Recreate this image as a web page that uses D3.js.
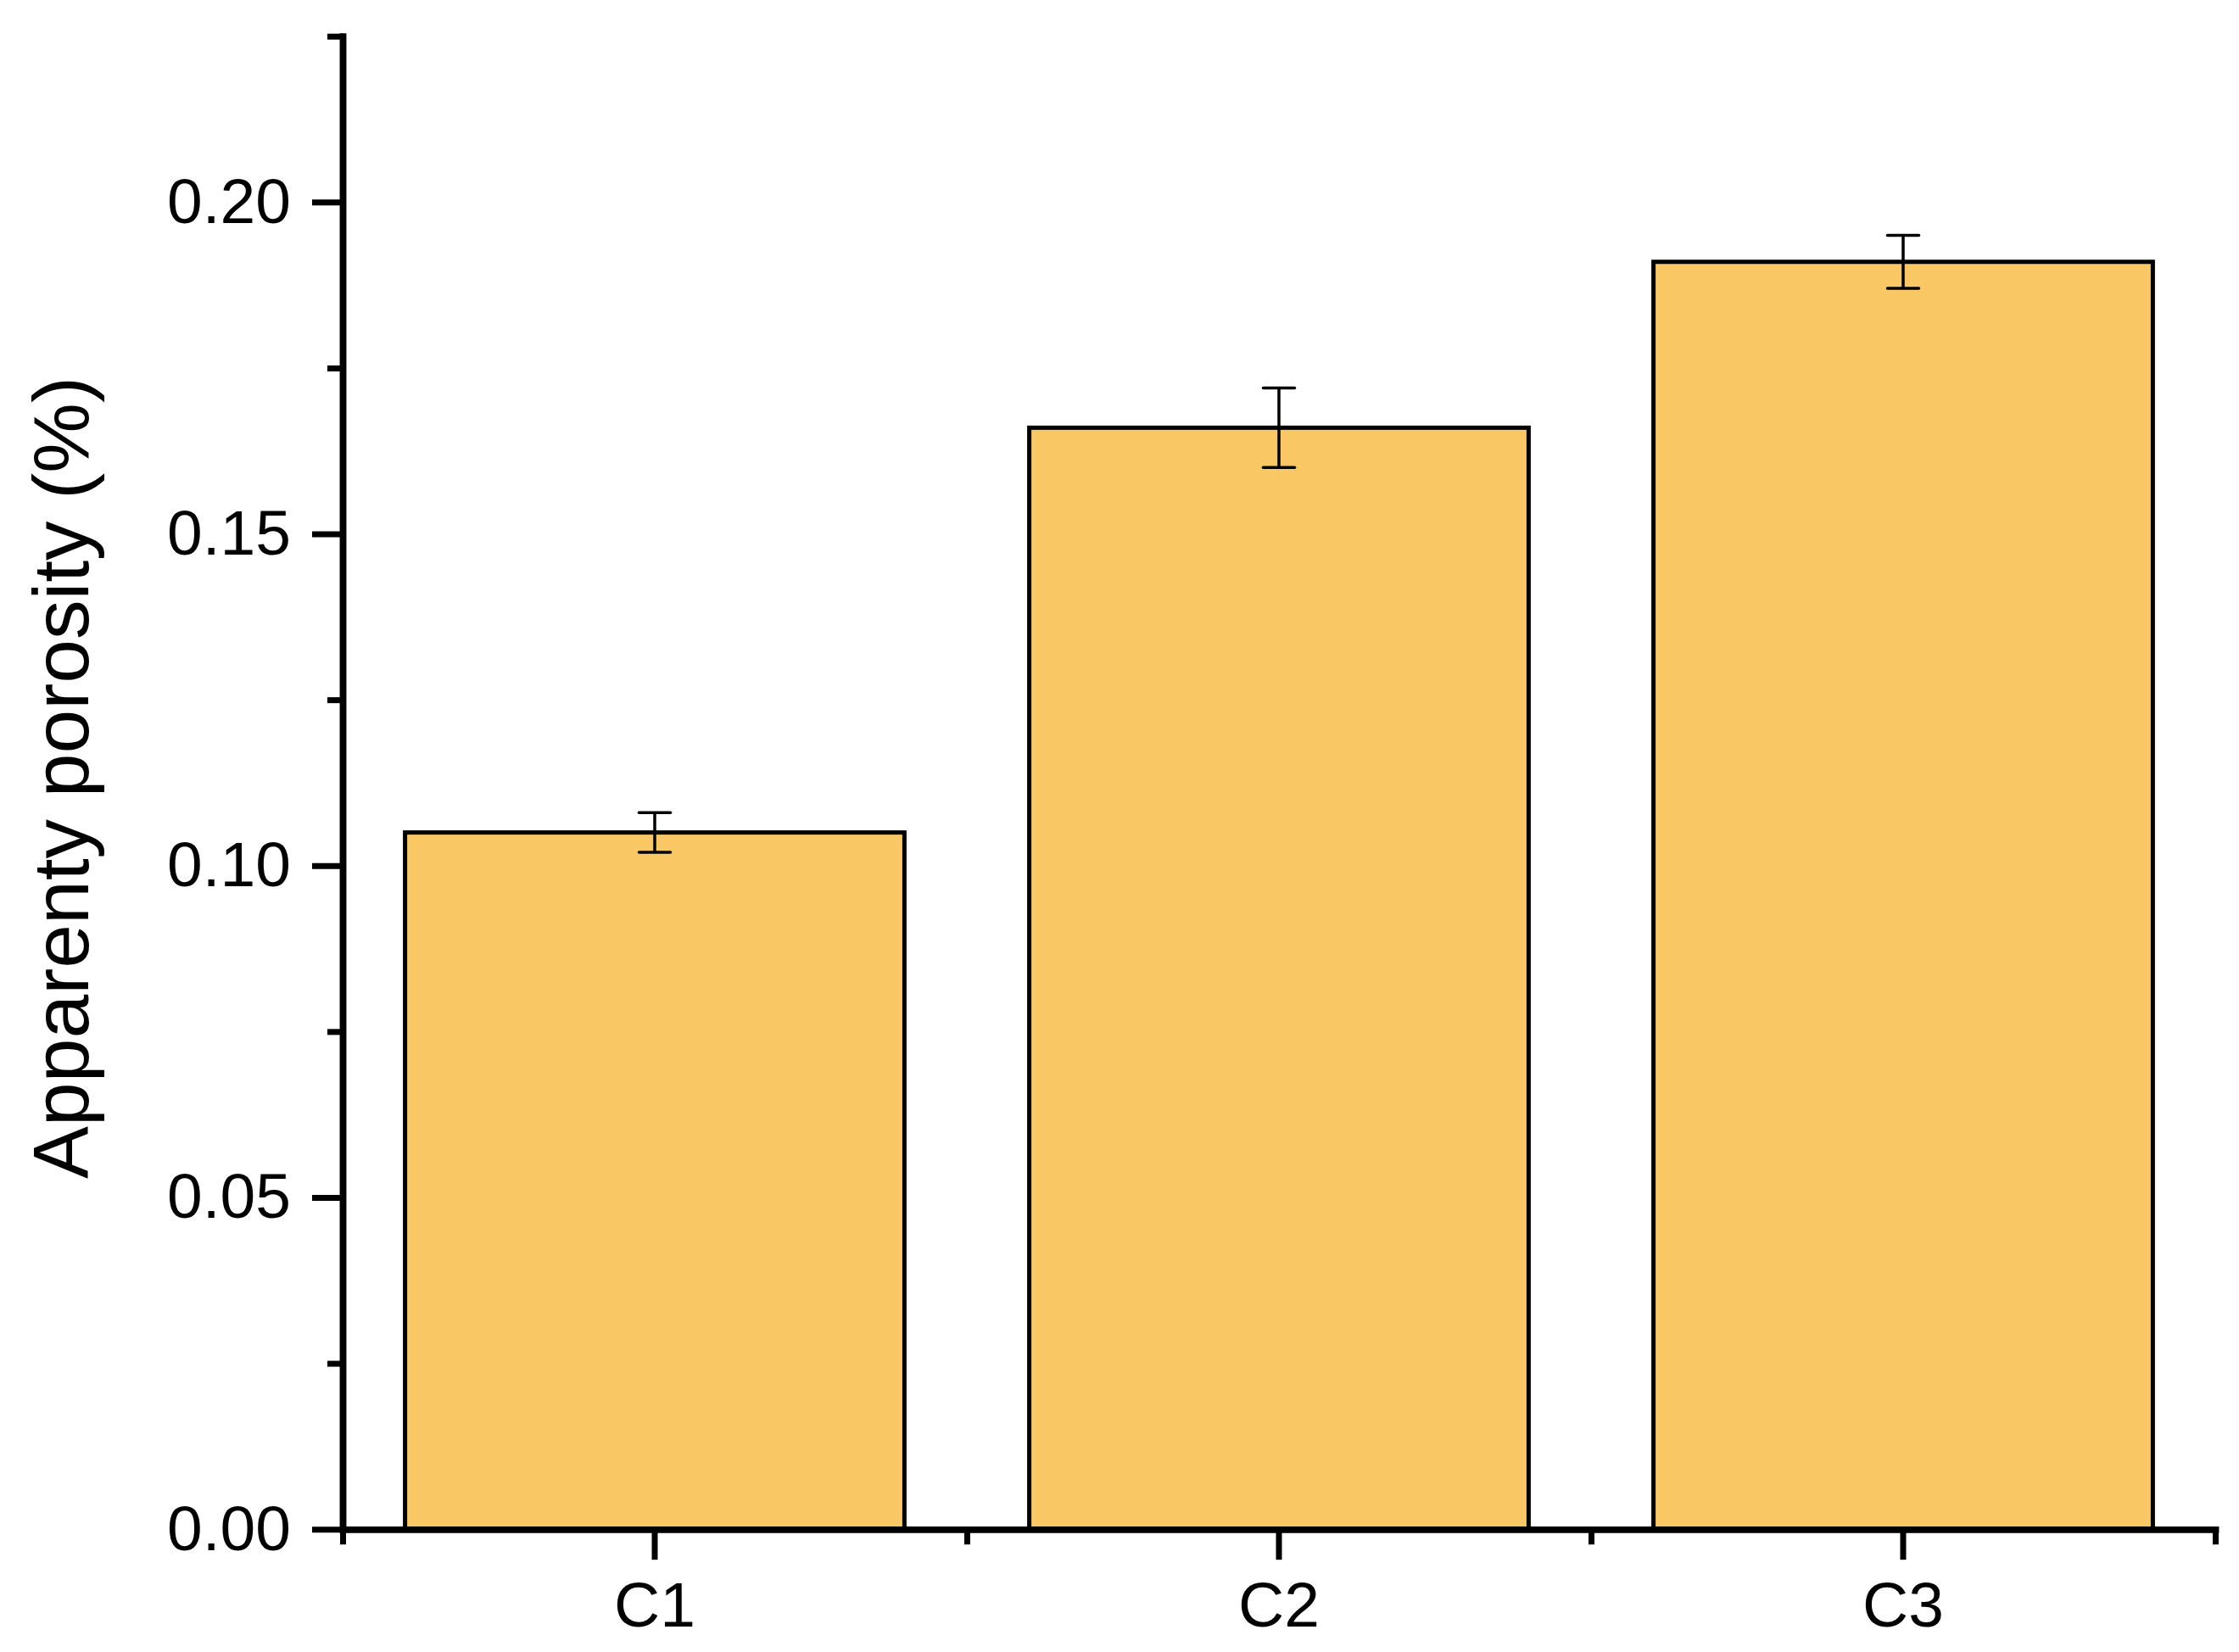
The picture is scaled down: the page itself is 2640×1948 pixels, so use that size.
<!DOCTYPE html>
<html>
<head>
<meta charset="utf-8">
<script src="https://cdn.jsdelivr.net/npm/d3@7"></script>
<style>
  html, body { margin: 0; padding: 0; background: #fff; }
  svg { display: block; font-family: "Liberation Sans", Arial, sans-serif; }
</style>
</head>
<body>
<div id="chart"></div>
<script>
const categories = ["C1", "C2", "C3"]
const porosity = [0.105, 0.166, 0.191]
const porosityErr = [0.003, 0.006, 0.004]
const yMajorTicks = [0, 0.05, 0.1, 0.15, 0.2]
const yMinorTicks = [0.025, 0.075, 0.125, 0.175, 0.225]
const yTitle = "Apparenty porosity (%)"

const width = 2640
const height = 1948
const plotLeft = 404
const plotRight = 2612
const plotTop = 42.7
const plotBottom = 1803.2

const svg = d3.select("#chart")
  .append("svg")
  .attr("width", width)
  .attr("height", height)

const x = d3.scaleBand()
  .domain(categories)
  .range([plotLeft, plotRight])
  .paddingInner(0.2)
  .paddingOuter(0.1)

// band edges for the minor ticks on the x axis
const xEdges = d3.scaleLinear().domain([0, categories.length]).range([plotLeft, plotRight])

const y = d3.scaleLinear().domain([0, 0.225]).range([plotBottom, plotTop])

const data = categories.map((c, i) => ({ c, v: porosity[i], e: porosityErr[i] }))

// bars
svg.selectAll("rect.bar")
  .data(data)
  .enter()
  .append("rect")
  .attr("class", "bar")
  .attr("x", d => x(d.c))
  .attr("y", d => y(d.v))
  .attr("width", x.bandwidth())
  .attr("height", d => y(0) - y(d.v))
  .style("fill", "#F9C764")
  .style("stroke", "#000")
  .style("stroke-width", 5)

// error bars
const capHalf = 18.5
const err = svg.selectAll("g.err")
  .data(data)
  .enter()
  .append("g")
  .attr("class", "err")
  .style("stroke", "#000")
  .style("stroke-width", 3.5)

err.append("line")
  .attr("x1", d => x(d.c) + x.bandwidth() / 2)
  .attr("x2", d => x(d.c) + x.bandwidth() / 2)
  .attr("y1", d => y(d.v - d.e))
  .attr("y2", d => y(d.v + d.e))

err.selectAll("line.cap")
  .data(d => [d.v - d.e, d.v + d.e].map(val => ({ c: d.c, val })))
  .enter()
  .append("line")
  .attr("class", "cap")
  .attr("x1", d => x(d.c) + x.bandwidth() / 2 - capHalf)
  .attr("x2", d => x(d.c) + x.bandwidth() / 2 + capHalf)
  .attr("y1", d => y(d.val))
  .attr("y2", d => y(d.val))
  .style("stroke-linecap", "round")

// y axis
svg.append("g")
  .attr("transform", `translate(${plotLeft},0)`)
  .call(d3.axisLeft(y).tickValues(yMajorTicks).tickFormat(d3.format(".2f"))
    .tickSize(36).tickSizeOuter(0).tickPadding(25))

svg.append("g")
  .attr("transform", `translate(${plotLeft},0)`)
  .call(d3.axisLeft(y).tickValues(yMinorTicks).tickFormat("")
    .tickSize(18).tickSizeOuter(0))

// x axis
svg.append("g")
  .attr("transform", `translate(0,${plotBottom})`)
  .call(d3.axisBottom(x).tickSize(36).tickSizeOuter(0).tickPadding(26))

svg.append("g")
  .attr("transform", `translate(0,${plotBottom})`)
  .call(d3.axisBottom(xEdges).tickValues(d3.range(categories.length + 1)).tickFormat("")
    .tickSize(18).tickSizeOuter(0))

svg.selectAll(".domain")
  .style("stroke", "#000")
  .style("stroke-width", 7.5)
  .style("stroke-linecap", "square")

svg.selectAll(".tick line")
  .style("stroke", "#000")
  .style("stroke-width", 7)

svg.selectAll(".tick text")
  .style("font-family", "'Liberation Sans', Arial, sans-serif")
  .style("font-size", "75px")
  .style("fill", "#000")

// y title
svg.append("text")
  .attr("transform", "rotate(-90)")
  .attr("x", -917)
  .attr("y", 104)
  .attr("text-anchor", "middle")
  .style("font-size", "93px")
  .style("fill", "#000")
  .text(yTitle)
</script>
</body>
</html>
